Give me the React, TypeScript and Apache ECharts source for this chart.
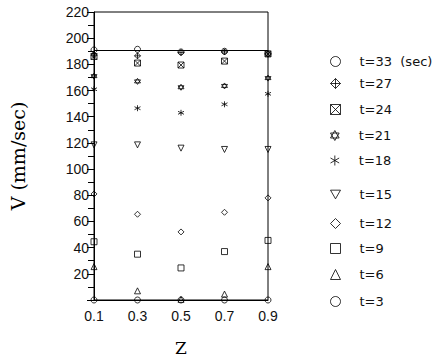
import React, { useEffect, useRef } from 'react';
import * as echarts from 'echarts';

// ---- data ----
const zCategories = ['0.1', '0.3', '0.5', '0.7', '0.9'];
const seriesNames = ['t=33  (sec)', 't=27', 't=24', 't=21', 't=18', 't=15', 't=12', 't=9', 't=6', 't=3'];
const t33 = [191, 191.5, 189.5, 190, 188];
const t27 = [187, 186.5, 189, 189.5, 188];
const t24 = [186, 181, 179.5, 182.5, 188];
const t21 = [171, 167, 162.5, 163.5, 169.5];
const t18 = [161, 146.5, 143, 149.5, 157.5];
const t15 = [118.5, 118.5, 116, 115, 115];
const t12 = [81, 65.5, 52, 67, 78];
const t9 = [44.5, 35, 24.5, 37, 45.5];
const t6 = [25.5, 7, 0.5, 4.5, 25.5];
const t3 = [0, 0, 0, 0, 0];
const plateauLevel = 191;
const yMin = 0;
const yMax = 220;
const yStep = 20;

const allValues = [t33, t27, t24, t21, t18, t15, t12, t9, t6, t3];

// ---- symbols ----
const SYM_CIRCLE = 'circle';
const SYM_CROSS_DIAMOND = 'path://M10,0 L20,10 L10,20 L0,10 Z M10,0 L10,20 M0,10 L20,10';
const SYM_X_SQUARE = 'path://M0,0 L20,0 L20,20 L0,20 Z M0,0 L20,20 M20,0 L0,20';
const SYM_HEXAGRAM = 'path://M10,0 L18.66,15 L1.34,15 Z M10,20 L18.66,5 L1.34,5 Z';
const SYM_ASTERISK = 'path://M10,0 L10,20 M1.34,5 L18.66,15 M18.66,5 L1.34,15';
const SYM_DOWN_TRI = 'path://M0,0 L20,0 L10,17.32 Z';
const SYM_DIAMOND = 'diamond';
const SYM_SQUARE = 'rect';
const SYM_TRI = 'triangle';

const symbols = [SYM_CIRCLE, SYM_CROSS_DIAMOND, SYM_X_SQUARE, SYM_HEXAGRAM, SYM_ASTERISK, SYM_DOWN_TRI, SYM_DIAMOND, SYM_SQUARE, SYM_TRI, SYM_CIRCLE];

// legend row centres (layout)
const legendRowCenters = [62, 84, 110, 136, 161, 195, 224, 249, 275, 302];

export default function App() {
  const ref = useRef<HTMLDivElement>(null);
  useEffect(() => {
    if (!ref.current) return;
    const chart = echarts.init(ref.current, null, { renderer: 'svg' });
    const markStyle = { color: 'transparent', borderColor: '#000', borderWidth: 1 };
    const series: any[] = seriesNames.map((name, i) => {
      const s: any = {
        name,
        type: 'scatter',
        data: allValues[i],
        symbol: symbols[i],
        symbolSize: 6,
        itemStyle: markStyle,
        z: 3,
      };
      if (i === 0) {
        s.markLine = {
          silent: true,
          symbol: 'none',
          label: { show: false },
          lineStyle: { color: '#000', type: 'solid', width: 1 },
          data: [{ yAxis: plateauLevel }],
        };
      }
      return s;
    });
    const legends = seriesNames.map((name, i) => ({
      data: [name],
      left: 330,
      top: legendRowCenters[i] - 7,
      orient: 'vertical',
      padding: 0,
      itemWidth: 10,
      itemHeight: 10,
      itemGap: 0,
      selectedMode: false,
      itemStyle: { color: 'transparent', borderColor: '#000', borderWidth: 1 },
      textStyle: { fontSize: 13, fontFamily: 'DejaVu Sans', color: '#111', padding: [0, 0, 0, 14] },
    }));
    chart.setOption({
      animation: false,
      backgroundColor: '#fff',
      grid: {
        left: 94,
        right: 178,
        top: 12,
        bottom: 59,
        show: true,
        borderColor: '#000',
        borderWidth: 1,
        backgroundColor: 'transparent',
      },
      legend: legends,
      xAxis: {
        type: 'category',
        data: zCategories,
        boundaryGap: false,
        axisLine: { show: true, lineStyle: { color: '#000', width: 1 } },
        axisTick: { show: false },
        splitLine: { show: false },
        axisLabel: { fontSize: 14, color: '#111', margin: 9, fontFamily: 'Liberation Sans' },
        name: 'Z',
        nameLocation: 'middle',
        nameGap: 39,
        nameTextStyle: { fontFamily: 'DejaVu Serif', fontSize: 17, color: '#000' },
      },
      yAxis: {
        type: 'value',
        min: yMin,
        max: yMax,
        interval: yStep,
        axisLine: { show: true, lineStyle: { color: '#000', width: 1 } },
        axisTick: { show: true, length: 7, lineStyle: { color: '#000' } },
        minorTick: { show: true, splitNumber: 2, length: 6, lineStyle: { color: '#000' } },
        splitLine: { show: false },
        minorSplitLine: { show: false },
        axisLabel: {
          formatter: (v: number) => (v === 0 ? '' : String(v)),
          fontSize: 14,
          color: '#111',
          margin: 5,
          fontFamily: 'Liberation Sans',
        },
        name: 'V (mm/sec)',
        nameLocation: 'middle',
        nameGap: 67,
        nameTextStyle: { fontFamily: 'DejaVu Serif', fontSize: 19, color: '#000' },
      },
      series,
    });
    return () => chart.dispose();
  }, []);
  return <div ref={ref} style={{ width: 446, height: 361, position: 'absolute', left: 0, top: 0 }} />;
}
